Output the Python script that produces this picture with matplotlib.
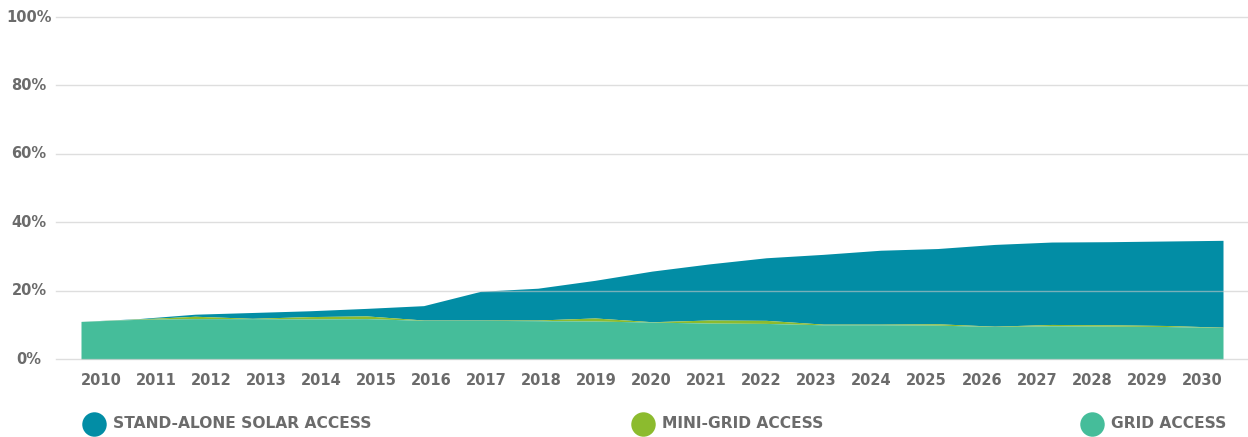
import numpy as np
import matplotlib
matplotlib.use("Agg")
import matplotlib.pyplot as plt

# Données (part de la population, %)
years = [2010, 2011, 2012, 2013, 2014, 2015, 2016, 2017, 2018, 2019, 2020,
         2021, 2022, 2023, 2024, 2025, 2026, 2027, 2028, 2029, 2030]
grid = [11.0, 11.6, 11.8, 11.8, 11.7, 11.8, 11.3, 11.3, 11.2, 11.1, 10.8,
        10.5, 10.4, 10.0, 10.0, 9.9, 9.5, 9.7, 9.6, 9.5, 9.2]
mini_grid = [0.0, 0.1, 0.7, 0.1, 0.7, 0.8, 0.1, 0.1, 0.2, 0.9, 0.1,
             0.9, 0.9, 0.2, 0.2, 0.4, 0.1, 0.4, 0.4, 0.3, 0.1]
solar = [0.0, 0.1, 0.6, 1.7, 1.7, 2.2, 4.2, 8.4, 9.3, 11.0, 14.8,
         16.4, 18.3, 20.4, 21.6, 22.0, 23.9, 24.1, 24.3, 24.7, 25.4]

labels = ["STAND-ALONE SOLAR ACCESS", "MINI-GRID ACCESS", "GRID ACCESS"]
colors = ["#028da5", "#8cbb2e", "#45bd9a"]
y_ticks = [0, 20, 40, 60, 80, 100]

TXT = "#6b6b6b"
FONT = "DejaVu Sans"

W, H = 1248, 437
fig = plt.figure(figsize=(W / 100, H / 100), dpi=100)
ax = fig.add_axes([56 / W, (H - 359) / H, (W - 56) / W, 342 / H])

x = np.arange(len(years))
g = np.array(grid)
m = g + np.array(mini_grid)
s = m + np.array(solar)

ax.fill_between(x, m, s, color=colors[0], lw=0, zorder=2)
ax.fill_between(x, g, m, color=colors[1], lw=0, zorder=2)
ax.fill_between(x, 0, g, color=colors[2], lw=0, zorder=2)

# grille horizontale par-dessus les aires
for yv in y_ticks:
    ax.axhline(yv, color="#c8c8c8", alpha=0.6, lw=1, zorder=3, clip_on=False)

ax.set_xlim(-25 / 57.1, 20 + 25 / 57.1)
ax.set_ylim(0, 100)
for sp in ax.spines.values():
    sp.set_visible(False)

ax.tick_params(length=0)
ax.set_xticks(0.35 + x * 55.05 / 57.1)
ax.set_xticklabels([str(y) for y in years], fontsize=10.5, fontweight="bold",
                   color=TXT, family=FONT)
ax.tick_params(axis="x", pad=10)
ax.set_yticks([])

# étiquettes y centrées
for yv in y_ticks:
    fig.text(29 / W, (H - (359 - yv * 3.42)) / H, f"{yv}%", ha="center", va="center",
             fontsize=10.5, fontweight="bold", color=TXT, family=FONT)

# légende manuelle
lx = [94, 643, 1092]
ly = 424
lax = fig.add_axes([0, 0, 1, 1], zorder=-1)
lax.set_xlim(0, W)
lax.set_ylim(H, 0)
lax.axis("off")
for px, lab, c in zip(lx, labels, colors):
    lax.scatter([px], [ly], s=310, color=c, lw=0)
    lax.text(px + 19, ly, lab, ha="left", va="center", fontsize=11.2,
             fontweight="bold", color=TXT, family=FONT)

plt.savefig("out.png", dpi=100)
